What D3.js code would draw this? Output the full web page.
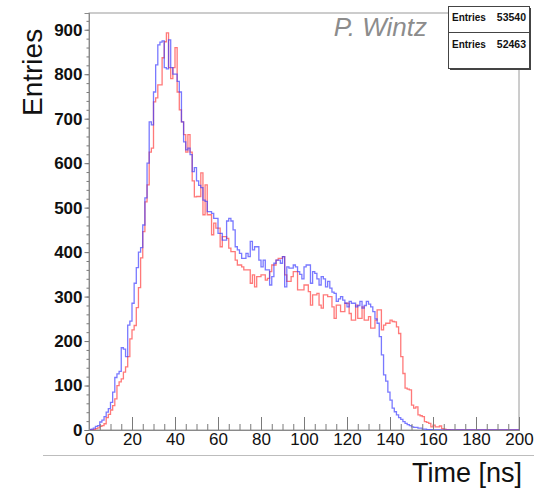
<!DOCTYPE html>
<html><head><meta charset="utf-8">
<script src="https://cdn.jsdelivr.net/npm/d3@7"></script>
<style>body{margin:0;background:#fff} svg{display:block} text{font-family:"Liberation Sans",Arial,sans-serif}</style>
</head><body>
<svg id="c" width="534" height="488"></svg>
<script>
// ---- data ----
const binLow = 0, binHigh = 200, binWidth = 1;
const redCounts = [
  0, 0, 1, 3, 5, 8, 10, 14, 28, 35,
  45, 55, 70, 100, 108, 115, 130, 142, 165, 205,
  225, 235, 275, 320, 387, 446, 513, 551, 625, 634,
  738, 747, 776, 776, 837, 873, 893, 815, 790, 815,
  860, 760, 720, 693, 664, 625, 664, 625, 560, 524,
  525, 525, 578, 484, 551, 484, 484, 439, 465, 454,
  454, 412, 435, 435, 431, 409, 401, 401, 382, 371,
  371, 367, 360, 360, 360, 330, 349, 322, 345, 345,
  349, 349, 337, 341, 356, 371, 371, 382, 386, 386,
  390, 349, 334, 334, 345, 356, 356, 315, 315, 315,
  326, 326, 311, 281, 304, 304, 307, 281, 274, 304,
  304, 300, 300, 277, 251, 281, 281, 266, 266, 285,
  285, 262, 247, 247, 281, 251, 251, 277, 247, 247,
  255, 229, 229, 247, 270, 270, 225, 236, 240, 240,
  247, 244, 243, 232, 217, 165, 127, 94, 92, 90,
  56, 49, 52, 34, 32, 30, 19, 17, 15, 7,
  11, 7, 7, 9, 3, 2, 1, 1, 0, 0,
  0, 0, 0, 0, 0, 0, 0, 0, 0, 0,
  0, 0, 0, 0, 0, 0, 0, 0, 0, 0,
  0, 0, 0, 0, 0, 0, 0, 0, 0, 0
];
const blueCounts = [
  1, 2, 4, 8, 10, 18, 22, 30, 40, 48,
  62, 85, 118, 126, 132, 185, 182, 165, 236, 245,
  285, 330, 365, 400, 410, 461, 522, 600, 693, 686,
  760, 821, 866, 872, 875, 815, 812, 877, 815, 800,
  800, 784, 760, 693, 648, 630, 634, 619, 581, 590,
  560, 550, 545, 517, 514, 491, 491, 487, 476, 476,
  442, 442, 427, 427, 470, 476, 470, 450, 412, 405,
  397, 386, 386, 397, 390, 424, 405, 412, 412, 382,
  367, 382, 360, 360, 326, 345, 375, 382, 382, 375,
  390, 322, 367, 364, 364, 371, 367, 356, 350, 340,
  367, 371, 371, 330, 356, 352, 340, 326, 345, 340,
  322, 334, 319, 310, 307, 289, 295, 300, 292, 285,
  277, 289, 285, 285, 277, 280, 289, 274, 280, 289,
  283, 277, 266, 250, 240, 210, 169, 124, 110, 85,
  67, 49, 41, 34, 28, 24, 19, 15, 12, 10,
  7, 6, 6, 4, 4, 2, 2, 1, 1, 1,
  0, 0, 0, 0, 0, 0, 0, 0, 0, 0,
  0, 0, 0, 0, 0, 0, 0, 0, 0, 0,
  0, 0, 0, 0, 0, 0, 0, 0, 0, 0,
  0, 0, 0, 0, 0, 0, 0, 0, 0, 0
];
const xTicks = [0, 20, 40, 60, 80, 100, 120, 140, 160, 180, 200];
const yTicks = [0, 100, 200, 300, 400, 500, 600, 700, 800, 900];
const statLabel = "Entries";
const statEntries = ["53540", "52463"];
const xTitle = "Time [ns]";
const yTitle = "Entries";
const author = "P. Wintz";

// ---- layout ----
const svg = d3.select("#c");
const L = 89, R = 519, T = 13, B = 430;
const yMax = 1.05 * d3.max(redCounts.concat(blueCounts));
const x = d3.scaleLinear().domain([binLow, binHigh]).range([L, R]);
const y = d3.scaleLinear().domain([0, yMax]).range([B, T]);

// frame
svg.append("rect").attr("x", L).attr("y", T).attr("width", R - L).attr("height", B - T)
  .attr("fill", "none").attr("stroke", "#9a9a9a").attr("stroke-width", 1);

// histograms
function histPath(counts) {
  const pts = counts.map((v, i) => [binLow + i * binWidth, v]);
  pts.push([binHigh, counts[counts.length - 1]]);
  return d3.line().x(d => x(d[0])).y(d => y(d[1])).curve(d3.curveStepAfter)(pts);
}
svg.append("path").attr("d", histPath(redCounts)).attr("fill", "none")
  .attr("stroke", "#ff3a3a").attr("stroke-opacity", 0.68).attr("stroke-width", 1.3);
svg.append("path").attr("d", histPath(blueCounts)).attr("fill", "none")
  .attr("stroke", "#3a3aff").attr("stroke-opacity", 0.68).attr("stroke-width", 1.3);

// x axis minor
const gxm = svg.append("g").attr("transform", `translate(0,${B})`)
  .call(d3.axisBottom(x).tickValues(d3.range(binLow, binHigh + 1, 5)).tickSize(-6).tickFormat(""));
// x axis major
const gx = svg.append("g").attr("transform", `translate(0,${B})`)
  .call(d3.axisBottom(x).tickValues(xTicks).tickSize(-13).tickPadding(3));
gx.selectAll("text").attr("font-size", 17).attr("fill", "#111")
  .style("font-family", '"Liberation Sans",Arial,sans-serif');

// y axis minor
const gym = svg.append("g").attr("transform", `translate(${L},0)`)
  .call(d3.axisLeft(y).tickValues(d3.range(0, yMax, 20)).tickSize(2.5).tickFormat(""));
// y axis major
const gy = svg.append("g").attr("transform", `translate(${L},0)`)
  .call(d3.axisLeft(y).tickValues(yTicks).tickSize(4.5).tickPadding(2));
gy.selectAll("text").attr("font-size", 17).attr("font-weight", "bold").attr("fill", "#111")
  .style("font-family", '"Liberation Sans",Arial,sans-serif');

[gxm, gx, gym, gy].forEach(g => {
  g.select(".domain").attr("stroke", "#8a8a8a");
  g.selectAll(".tick line").attr("stroke", "#7a7a7a");
});

// bottom separator line
svg.append("line").attr("x1", 43).attr("x2", 534).attr("y1", 455.5).attr("y2", 455.5)
  .attr("stroke", "#bdbdbd").attr("stroke-width", 1);

// titles
svg.append("text").attr("x", 522).attr("y", 482).attr("text-anchor", "end")
  .attr("font-size", 27).attr("fill", "#111").text(xTitle);
svg.append("text").attr("transform", "translate(42,116) rotate(-90)").attr("text-anchor", "start")
  .attr("font-size", 28).attr("fill", "#111").text(yTitle);

// author
svg.append("text").attr("x", 427).attr("y", 36).attr("text-anchor", "end")
  .attr("font-size", 26).attr("font-style", "italic").attr("fill", "#8c8c8c").text(author);

// stats boxes
const bx = 448, bw = 81, by = 6;
const boxH = [26, 36];
svg.append("rect").attr("x", bx + 2).attr("y", by + 2).attr("width", bw).attr("height", boxH[0] + boxH[1])
  .attr("fill", "#444");
let cy = by;
statEntries.forEach((val, i) => {
  svg.append("rect").attr("x", bx + 0.5).attr("y", cy + 0.5).attr("width", bw).attr("height", boxH[i])
    .attr("fill", "#fff").attr("stroke", "#444").attr("stroke-width", 1);
  const base = i === 0 ? 20.5 : 47.5;
  svg.append("text").attr("x", bx + 4).attr("y", base).attr("font-size", 10).attr("font-weight", "bold")
    .attr("fill", "#111").text(statLabel);
  svg.append("text").attr("x", bx + bw - 3).attr("y", base).attr("text-anchor", "end")
    .attr("font-size", 10.5).attr("font-weight", "bold").attr("fill", "#111").text(val);
  cy += boxH[i];
});
</script>
</body></html>
